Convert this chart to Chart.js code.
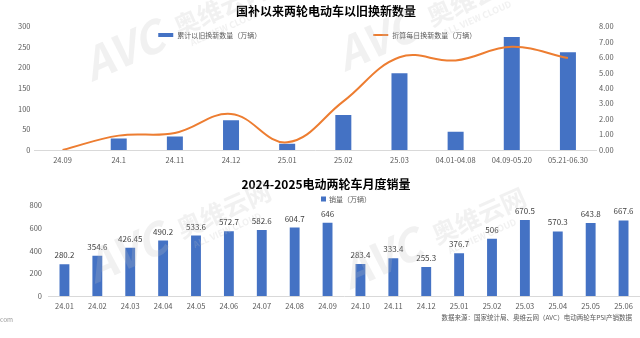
<!DOCTYPE html>
<html>
<head>
<meta charset="utf-8">
<script src="https://cdn.jsdelivr.net/npm/chart.js@4.4.1/dist/chart.umd.min.js"></script>
<style>
  html, body { margin: 0; padding: 0; background: #fff; }
  .box { position: absolute; left: 0; width: 640px; }
  #top { top: 0; height: 172px; }
  #bottom { top: 172px; height: 166px; }
</style>
</head>
<body>
<div class="box" id="top"><canvas id="swapChart"></canvas></div>
<div class="box" id="bottom"><canvas id="salesChart"></canvas></div>
<script>
// 国补以来以旧换新
const swapLabels = ["24.09", "24.1", "24.11", "24.12", "25.01", "25.02", "25.03", "04.01-04.08", "04.09-05.20", "05.21-06.30"];
const swapTotal = [0, 28, 33, 72, 15, 85, 186, 44, 274, 237];          // 累计以旧换新数量（万辆）
const swapDaily = [0, 0.93, 1.1, 2.33, 0.5, 3.15, 6.0, 5.8, 6.68, 5.95]; // 折算每日换新数量（万辆）

// 月度销量
const monthLabels = ["24.01", "24.02", "24.03", "24.04", "24.05", "24.06", "24.07", "24.08", "24.09", "24.10", "24.11", "24.12",
    "25.01", "25.02", "25.03", "25.04", "25.05", "25.06"];
const monthSales = [280.2, 354.6, 426.45, 490.2, 533.6, 572.7, 582.6, 604.7, 646, 283.4, 333.4, 255.3,
    376.7, 506, 670.5, 570.3, 643.8, 667.6];

const FONT = "'Noto Sans CJK SC', 'Noto Sans', sans-serif";
const BLUE = "#4472C4";
const ORANGE = "#ED7D31";
const TICK = "#595959";

Chart.defaults.font.family = FONT;
Chart.defaults.animation = false;

// legend with items spread apart, centered over the plot area
const splitLegend = {
    id: "splitLegend",
    afterDraw(chart, args, opts) {
        const ctx = chart.ctx;
        const area = chart.chartArea;
        ctx.save();
        ctx.font = `${opts.size}px ${FONT}`;
        ctx.textBaseline = "middle";
        const items = chart.data.datasets.map(ds => ({
            text: ds.label,
            line: ds.type === "line",
            color: ds.type === "line" ? ds.borderColor : ds.backgroundColor
        }));
        const widths = items.map(it => opts.boxWidth + opts.boxGap + ctx.measureText(it.text).width);
        const total = widths.reduce((a, b) => a + b, 0) + opts.gap * (items.length - 1);
        let x = (area.left + area.right) / 2 - total / 2 + (opts.shift || 0);
        const y = opts.y;
        items.forEach((it, i) => {
            if (it.line) {
                ctx.strokeStyle = it.color;
                ctx.lineWidth = 2;
                ctx.beginPath();
                ctx.moveTo(x, y);
                ctx.lineTo(x + opts.boxWidth, y);
                ctx.stroke();
            } else {
                ctx.fillStyle = it.color;
                ctx.fillRect(x, y - opts.boxHeight / 2, opts.boxWidth, opts.boxHeight);
            }
            ctx.fillStyle = TICK;
            ctx.fillText(it.text, x + opts.boxWidth + opts.boxGap, y);
            x += widths[i] + opts.gap;
        });
        ctx.restore();
    }
};

// faint AVC logo text
const watermark = {
    id: "watermark",
    afterDraw(chart, args, opts) {
        const ctx = chart.ctx;
        (opts.spots || []).forEach(s => {
            ctx.save();
            ctx.translate(s.x, s.y);
            ctx.rotate(-24 * Math.PI / 180);
            ctx.fillStyle = "rgba(190,190,190,0.22)";
            ctx.textBaseline = "alphabetic";
            ctx.font = `italic bold 44px ${FONT}`;
            ctx.fillText("AVC", 0, 0);
            ctx.font = `bold 25px ${FONT}`;
            ctx.fillText("奥维云网", 98, -6);
            ctx.font = `bold 9px ${FONT}`;
            ctx.fillText("ALL VIEW CLOUD", 106, 8);
            ctx.restore();
        });
    }
};

// values above bars
const valueLabels = {
    id: "valueLabels",
    afterDatasetsDraw(chart, args, opts) {
        if (!opts.display) return;
        const ctx = chart.ctx;
        const meta = chart.getDatasetMeta(0);
        const data = chart.data.datasets[0].data;
        ctx.save();
        ctx.font = `${opts.size}px ${FONT}`;
        ctx.fillStyle = "#404040";
        ctx.textAlign = "center";
        ctx.textBaseline = "middle";
        meta.data.forEach((bar, i) => {
            ctx.fillText(String(data[i]), bar.x, bar.y - opts.offset);
        });
        ctx.restore();
    }
};

// source line under the chart
const sourceNote = {
    id: "sourceNote",
    afterDraw(chart, args, opts) {
        if (!opts.text) return;
        const ctx = chart.ctx;
        ctx.save();
        ctx.font = `${opts.size}px ${FONT}`;
        ctx.fillStyle = TICK;
        ctx.textBaseline = "middle";
        ctx.textAlign = "right";
        ctx.fillText(opts.text, opts.x, opts.y);
        ctx.textAlign = "left";
        ctx.fillStyle = "#9a9a9a";
        ctx.fillText("com", 0, opts.y + 2);
        ctx.restore();
    }
};

Chart.register(splitLegend, watermark, valueLabels, sourceNote);

const tickFont = { size: 7.5 };
const noGrid = { display: false, drawTicks: false };

new Chart(document.getElementById("swapChart"), {
    data: {
        labels: swapLabels,
        datasets: [
            {
                type: "bar",
                label: "累计以旧换新数量（万辆）",
                data: swapTotal,
                backgroundColor: BLUE,
                barPercentage: 0.57,
                categoryPercentage: 0.5,
                yAxisID: "y",
                order: 2
            },
            {
                type: "line",
                label: "折算每日换新数量（万辆）",
                data: swapDaily,
                borderColor: ORANGE,
                borderWidth: 2,
                pointRadius: 0,
                tension: 0.4,
                yAxisID: "y1",
                order: 1
            }
        ]
    },
    options: {
        responsive: true,
        maintainAspectRatio: false,
        layout: { padding: { left: 12, right: 0, top: 0, bottom: 0 } },
        plugins: {
            legend: { display: false },
            tooltip: { enabled: false },
            title: {
                display: true,
                text: "国补以来两轮电动车以旧换新数量",
                color: "#000",
                font: { size: 12, weight: "bold" },
                padding: { top: 4, bottom: 8 }
            },
            splitLegend: { y: 35, size: 7, boxWidth: 15, boxHeight: 4, boxGap: 4, gap: 112, shift: 2 },
            watermark: { spots: [{ x: 92, y: 82 }, { x: 345, y: 72 }] }
        },
        scales: {
            x: {
                grid: noGrid,
                border: { display: true, color: "#d9d9d9" },
                ticks: { color: TICK, font: tickFont, padding: 6, maxRotation: 0, autoSkip: false },
                afterFit: s => { s.height = 22; }
            },
            y: {
                position: "left",
                min: 0,
                max: 300,
                grid: noGrid,
                border: { display: false },
                ticks: { stepSize: 50, color: TICK, font: tickFont, padding: 4 },
                afterFit: s => { s.width = 22.5; }
            },
            y1: {
                position: "right",
                min: 0,
                max: 8,
                grid: noGrid,
                border: { display: false },
                ticks: { stepSize: 1, color: TICK, font: tickFont, padding: 3, callback: v => v.toFixed(2) },
                afterFit: s => { s.width = 44; }
            }
        }
    }
});

new Chart(document.getElementById("salesChart"), {
    type: "bar",
    data: {
        labels: monthLabels,
        datasets: [
            {
                label: "销量（万辆）",
                data: monthSales,
                backgroundColor: BLUE,
                barPercentage: 0.6,
                categoryPercentage: 0.5
            }
        ]
    },
    options: {
        responsive: true,
        maintainAspectRatio: false,
        layout: { padding: { left: 12, right: 0, top: 0, bottom: 0 } },
        plugins: {
            legend: { display: false },
            tooltip: { enabled: false },
            title: {
                display: true,
                text: "2024-2025电动两轮车月度销量",
                color: "#000",
                font: { size: 12, weight: "bold" },
                padding: { top: 5, bottom: 14 }
            },
            splitLegend: { y: 27, size: 7, boxWidth: 5, boxHeight: 5, boxGap: 3, gap: 0, shift: 2 },
            valueLabels: { display: true, size: 8, offset: 9 },
            sourceNote: { text: "数据来源：国家统计局、奥维云网（AVC）电动两轮车PSI产销数据", size: 6.5, x: 632, y: 146 },
            watermark: { spots: [{ x: 95, y: 112 }, { x: 350, y: 118 }] }
        },
        scales: {
            x: {
                grid: noGrid,
                border: { display: true, color: "#d9d9d9" },
                ticks: { color: TICK, font: tickFont, padding: 6, maxRotation: 0, autoSkip: false },
                afterFit: s => { s.height = 42; }
            },
            y: {
                min: 0,
                max: 800,
                grid: noGrid,
                border: { display: false },
                ticks: { stepSize: 200, color: TICK, font: tickFont, padding: 6 },
                afterFit: s => { s.width = 36; }
            }
        }
    }
});
</script>
</body>
</html>
